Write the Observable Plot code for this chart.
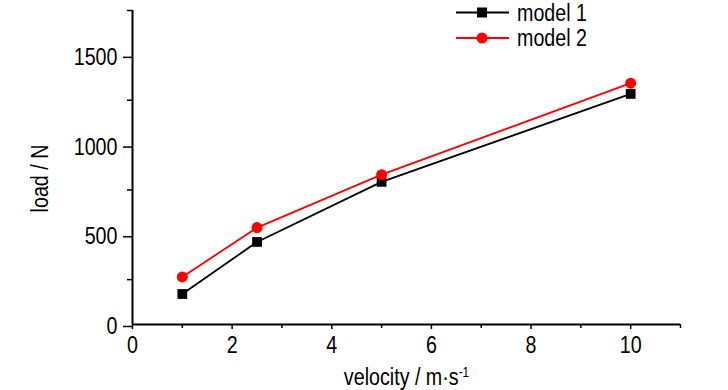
<!DOCTYPE html>
<html><head><meta charset="utf-8">
<script src="https://cdn.jsdelivr.net/npm/d3@7"></script>
<script src="https://cdn.jsdelivr.net/npm/@observablehq/plot@0.6"></script>
<style>
body{margin:0;background:#fff}
#wrap{position:relative;width:728px;height:390px;font-family:"Liberation Sans",Arial,sans-serif}
#legend{position:absolute;left:456px;top:0}
</style></head>
<body><div id="wrap"><div id="legend"></div></div>
<script>
const velocity = [1, 2.5, 5, 10];
const model1 = [170, 460, 795, 1285];
const model2 = [265, 540, 835, 1345];
const seriesNames = ["model 1", "model 2"];
const seriesColors = ["#000000", "#ff0000"];
const seriesSymbols = ["square", "circle"];
const xTicks = [0, 2, 4, 6, 8, 10];
const xMinor = [1, 3, 5, 7, 9, 11];
const yTicks = [0, 500, 1000, 1500];
const yMinor = [250, 750, 1250, 1750];
const xLabel = "velocity / m·s";
const xLabelSup = "-1";
const yLabel = "load / N";

const FONT = '"Liberation Sans",Arial,sans-serif';
const FS = 24;
const NARROW = 0.82;

const data = [
  ...velocity.map((v, i) => ({x: v, y: model1[i], s: seriesNames[0]})),
  ...velocity.map((v, i) => ({x: v, y: model2[i], s: seriesNames[1]}))
];

const chart = Plot.plot({
  width: 728, height: 390,
  marginLeft: 132, marginRight: 48, marginTop: 10, marginBottom: 66,
  style: {fontFamily: FONT, fontSize: FS + "px", background: "white", color: "black"},
  x: {domain: [0, 11]},
  y: {domain: [0, 1750]},
  color: {domain: seriesNames, range: seriesColors},
  symbol: {domain: seriesNames, range: seriesSymbols},
  marks: [
    Plot.axisY(yTicks, {tickSize: 9, tickPadding: 6, fontSize: FS, dy: 2, label: null, strokeWidth: 1.5, tickFormat: d => String(d)}),
    Plot.axisY(yMinor, {tickSize: 5, text: null, label: null, strokeWidth: 1.5}),
    Plot.axisX(xTicks, {tickSize: 5, tickPadding: 6, fontSize: FS, label: null, strokeWidth: 1.5, tickFormat: d => String(d)}),
    Plot.axisX(xMinor, {tickSize: 4, text: null, label: null, strokeWidth: 1.5}),
    Plot.ruleX([0], {strokeWidth: 2}),
    Plot.ruleY([0], {strokeWidth: 2}),
    Plot.line(data, {x: "x", y: "y", z: "s", stroke: "s", strokeWidth: 1.8}),
    Plot.dot(data, {x: "x", y: "y", fill: "s", symbol: "s", r: 5.5}),
    Plot.text([yLabel], {frameAnchor: "left", rotate: -90, textAnchor: "middle", lineAnchor: "middle", dx: -92, dy: 11, fontSize: FS}),
    Plot.text([xLabel], {frameAnchor: "bottom", textAnchor: "middle", lineAnchor: "middle", dx: 0, dy: 53, fontSize: FS})
  ]
});
document.getElementById("wrap").prepend(chart);

// superscript in x label
d3.select(chart).selectAll("text").filter(function(){ return this.textContent === xLabel; })
  .append("tspan").attr("dy", "-0.55em").attr("font-size", "0.6em").text(xLabelSup);

// narrow (condensed) look for all text, scaling about each text's anchor
const isNum = s => s != null && /^-?\d*\.?\d+(e-?\d+)?$/.test(String(s).trim());
function narrow(root) {
  d3.select(root).selectAll("text").each(function() {
    const el = d3.select(this);
    let tx = 0, ty = 0;
    const xa = el.attr("x"), ya = el.attr("y");
    if (isNum(xa)) { tx = +xa; el.attr("x", null); }
    if (isNum(ya)) { ty = +ya; el.attr("y", null); }
    const t = el.attr("transform") || "";
    el.attr("transform", `${t} translate(${tx},${ty}) scale(${NARROW},1)`);
  });
}
narrow(chart);

// legend
const lg = d3.select("#legend").append("svg").attr("width", 170).attr("height", 55)
  .style("font-family", FONT).style("overflow", "visible");
const rows = lg.selectAll("g").data(seriesNames).join("g")
  .attr("transform", (d, i) => `translate(0,${12.5 + i * 25.5})`);
rows.append("line").attr("x1", 0).attr("x2", 53).attr("stroke", (d, i) => seriesColors[i]).attr("stroke-width", 2);
rows.append("path").attr("transform", "translate(26,0)")
  .attr("d", (d, i) => d3.symbol(i === 0 ? d3.symbolSquare : d3.symbolCircle, i === 0 ? 100 : 95)())
  .attr("fill", (d, i) => seriesColors[i]);
rows.append("text").attr("x", 61).attr("dy", "0.35em").attr("font-size", FS).text(d => d);
narrow(lg.node());
</script>
</body></html>
